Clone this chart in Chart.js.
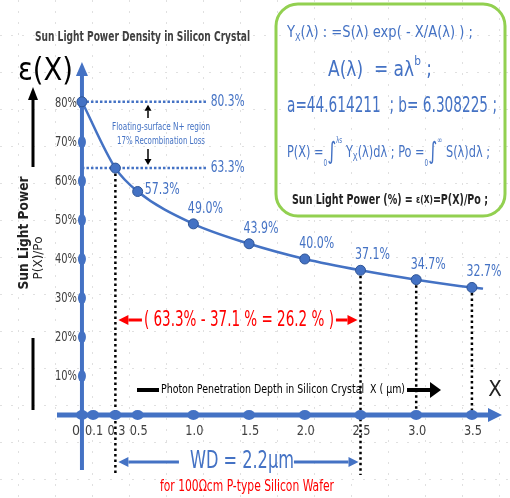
<!DOCTYPE html>
<html>
<head>
<meta charset="utf-8">
<script src="https://cdn.jsdelivr.net/npm/chart.js@4.4.1/dist/chart.umd.min.js"></script>
<style>
  html, body { margin: 0; padding: 0; background: #fff; }
  #wrap { width: 510px; height: 498px; }
</style>
</head>
<body>
<div id="wrap"><canvas id="chart" width="510" height="498"></canvas></div>
<script>
// photon penetration depth (um) and remaining sun light power P(X)/Po (%)
const depth = [0, 0.3, 0.5, 1.0, 1.5, 2.0, 2.5, 3.0, 3.5, 3.6];
const power = [80.3, 63.3, 57.3, 49.0, 43.9, 40.0, 37.1, 34.7, 32.7, 32.4];

// axis ticks
const xTicks = [0, 0.1, 0.3, 0.5, 1.0, 1.5, 2.0, 2.5, 3.0, 3.5];
const xTickLabels = ['0', '0.1', '0.3', '0.5', '1.0', '1.5', '2.0', '2.5', '3.0', '3.5'];
const yTicks = [10, 20, 30, 40, 50, 60, 70, 80];
const yTickLabels = ['10%', '20%', '30%', '40%', '50%', '60%', '70%', '80%'];

// marked levels and depths
const surfaceLevels = [80.3, 63.3];
const dropDepths = [0.3, 2.5, 3.0, 3.5];
const wdRange = [0.3, 2.5];

const BLUE = '#4472C4';
const NARROW = "'Liberation Sans Narrow', 'DejaVu Sans Condensed', 'Arial Narrow', sans-serif";

function powerAt(d) {
    return power[depth.indexOf(d)];
}

function arrow(ctx, x1, y1, x2, y2, color, lw, hl, hw) {
    const a = Math.atan2(y2 - y1, x2 - x1);
    const bx = x2 - hl * Math.cos(a), by = y2 - hl * Math.sin(a);
    ctx.save();
    ctx.strokeStyle = color;
    ctx.fillStyle = color;
    ctx.lineWidth = lw;
    ctx.setLineDash([]);
    ctx.beginPath();
    ctx.moveTo(x1, y1);
    ctx.lineTo(bx, by);
    ctx.stroke();
    ctx.beginPath();
    ctx.moveTo(x2, y2);
    ctx.lineTo(bx + hw * Math.sin(a), by - hw * Math.cos(a));
    ctx.lineTo(bx - hw * Math.sin(a), by + hw * Math.cos(a));
    ctx.closePath();
    ctx.fill();
    ctx.restore();
}

function txt(ctx, s, x, y, font, color, align, maxW) {
    ctx.font = font;
    ctx.fillStyle = color;
    ctx.textAlign = align || 'left';
    ctx.textBaseline = 'middle';
    if (maxW) ctx.fillText(s, x, y, maxW);
    else ctx.fillText(s, x, y);
}

// segments: [text, size, dy, bold]
function rich(ctx, segs, x, y, targetW, color) {
    let w = 0;
    segs.forEach(s => {
        ctx.font = (s[3] ? 'bold ' : '') + s[1] + 'px ' + NARROW;
        s.w = ctx.measureText(s[0]).width;
        w += s.w;
    });
    const k = targetW / w;
    ctx.save();
    ctx.translate(x, y);
    ctx.scale(k, 1);
    ctx.fillStyle = color;
    ctx.textAlign = 'left';
    ctx.textBaseline = 'middle';
    let cx = 0;
    segs.forEach(s => {
        ctx.font = (s[3] ? 'bold ' : '') + s[1] + 'px ' + NARROW;
        ctx.fillText(s[0], cx, s[2]);
        cx += s.w;
    });
    ctx.restore();
}

function faintGrid(ctx, x1, y1, x2, y2) {
    ctx.save();
    ctx.strokeStyle = '#e0e0e0';
    ctx.lineWidth = 1;
    ctx.setLineDash([2, 9]);
    for (let gx = 18; gx < x2; gx += 37) {
        if (gx < x1) continue;
        ctx.beginPath(); ctx.moveTo(gx + 0.5, y1); ctx.lineTo(gx + 0.5, y2); ctx.stroke();
    }
    for (let gy = 35; gy < y2; gy += 37) {
        if (gy < y1) continue;
        ctx.beginPath(); ctx.moveTo(x1, gy + 0.5); ctx.lineTo(x2, gy + 0.5); ctx.stroke();
    }
    ctx.restore();
}

const backdrop = {
    id: 'backdrop',
    beforeDraw(chart) {
        const ctx = chart.ctx;
        ctx.save();
        ctx.fillStyle = '#fff';
        ctx.fillRect(0, 0, chart.width, chart.height);
        ctx.restore();
        faintGrid(ctx, 0, 0, chart.width, chart.height);
    },
    beforeDatasetsDraw(chart) {
        const ctx = chart.ctx;
        const xs = chart.scales.x, ys = chart.scales.y, area = chart.chartArea;
        const x0 = xs.getPixelForValue(0), y0 = ys.getPixelForValue(0);
        ctx.save();

        // dotted surface levels
        const lvEnd = xs.getPixelForValue(1.12);
        surfaceLevels.forEach(lv => {
            const py = ys.getPixelForValue(lv);
            ctx.strokeStyle = BLUE;
            ctx.lineWidth = 2.5;
            ctx.setLineDash([2.5, 2]);
            ctx.beginPath(); ctx.moveTo(x0, py); ctx.lineTo(lvEnd, py); ctx.stroke();
            txt(ctx, lv.toFixed(1) + '%', lvEnd + 4, py, '15px ' + NARROW, BLUE, 'left', 34);
        });

        // black drop lines from the curve
        dropDepths.forEach(d => {
            const px = xs.getPixelForValue(d);
            const top = ys.getPixelForValue(powerAt(d));
            const bottom = wdRange.includes(d) ? area.bottom + 5 : y0;
            ctx.strokeStyle = '#000';
            ctx.lineWidth = 2.5;
            ctx.setLineDash([2.5, 3]);
            ctx.beginPath(); ctx.moveTo(px, top); ctx.lineTo(px, bottom); ctx.stroke();
        });
        ctx.setLineDash([]);

        // axes
        arrow(ctx, x0, area.bottom, x0, area.top, BLUE, 4, 14, 6);
        arrow(ctx, area.left, y0, area.right, y0, BLUE, 5, 14, 7);

        yTicks.forEach((v, i) => {
            const py = ys.getPixelForValue(v);
            ctx.fillStyle = BLUE;
            ctx.beginPath(); ctx.ellipse(x0, py, 4, 6, 0, 0, Math.PI * 2); ctx.fill();
            txt(ctx, yTickLabels[i], x0 - 5, py, '14px ' + NARROW, '#404040', 'right', 22);
        });
        xTicks.forEach((v, i) => {
            const px = xs.getPixelForValue(v);
            ctx.fillStyle = BLUE;
            ctx.beginPath(); ctx.ellipse(px, y0, 6, 5, 0, 0, Math.PI * 2); ctx.fill();
            const lx = v === 0 ? px - 6 : px + 1;
            txt(ctx, xTickLabels[i], lx, y0 + 16, '14px ' + NARROW, '#404040', 'center', 18);
        });
        ctx.restore();
    },
    afterDatasetsDraw(chart) {
        const ctx = chart.ctx;
        const xs = chart.scales.x, ys = chart.scales.y;
        const meta = chart.getDatasetMeta(0);
        ctx.save();

        // value labels on the curve
        meta.data.forEach((pt, i) => {
            if (depth[i] < 0.5 || depth[i] > 3.5) return;
            const s = power[i].toFixed(1) + '%';
            if (depth[i] === 0.5) txt(ctx, s, pt.x + 7, pt.y - 1, '15px ' + NARROW, BLUE, 'left', 35);
            else txt(ctx, s, pt.x + 12, pt.y - 15, '15px ' + NARROW, BLUE, 'center', 35);
        });

        // recombination loss note
        const hiY = ys.getPixelForValue(surfaceLevels[0]), loY = ys.getPixelForValue(surfaceLevels[1]);
        txt(ctx, 'Floating-surface N+ region', 161, 127, '11px ' + NARROW, BLUE, 'center', 98);
        txt(ctx, (surfaceLevels[0] - surfaceLevels[1]).toFixed(0) + '% Recombination Loss', 161, 141, '11px ' + NARROW, BLUE, 'center', 88);
        arrow(ctx, 148, 118, 148, hiY + 3, '#000', 1.5, 6, 3.5);
        arrow(ctx, 148, 149, 148, loY - 3, '#000', 1.5, 6, 3.5);

        // red difference between the two drop lines
        const xa = xs.getPixelForValue(wdRange[0]), xb = xs.getPixelForValue(wdRange[1]);
        const pa = powerAt(wdRange[0]), pb = powerAt(wdRange[1]);
        const diff = '( ' + pa.toFixed(1) + '% - ' + pb.toFixed(1) + ' % = ' + (pa - pb).toFixed(1) + ' % )';
        const cx = (xa + xb) / 2 + 1;
        txt(ctx, diff, cx, 320, '22px ' + NARROW, '#FF0000', 'center', 190);
        arrow(ctx, cx - 97, 320, xa + 3, 320, '#FF0000', 3, 10, 5);
        arrow(ctx, cx + 97, 320, xb - 3, 320, '#FF0000', 3, 10, 5);

        // penetration depth caption
        ctx.fillStyle = '#000';
        ctx.fillRect(137, 388, 22, 4);
        txt(ctx, 'Photon Penetration Depth in Silicon Crystal  X ( \u03BCm)', 161, 390, '12px ' + NARROW, '#000', 'left', 244);
        arrow(ctx, 407, 390, 441, 390, '#000', 4, 11, 8);
        txt(ctx, 'X', 495, 390, '22px ' + NARROW, '#222', 'center', 14);

        // WD span
        txt(ctx, 'WD = ' + (wdRange[1] - wdRange[0]).toFixed(1) + '\u00B5m', cx + 3, 462, '24px ' + NARROW, BLUE, 'center', 104);
        arrow(ctx, cx - 60, 462, xa + 3, 462, BLUE, 3, 10, 5);
        arrow(ctx, cx + 55, 462, xb - 2, 462, BLUE, 3, 10, 5);
        txt(ctx, 'for 100\u03A9cm P-type Silicon Wafer', cx + 8, 487, '15px ' + NARROW, '#FF0000', 'center', 174);

        // title and axis names
        txt(ctx, 'Sun Light Power Density in Silicon Crystal', 35, 37, 'bold 14px ' + NARROW, '#404040', 'left', 215);
        txt(ctx, '\u03B5(X)', 18, 72, '32px ' + NARROW, '#000', 'left', 55);
        arrow(ctx, 33, 167, 33, 87, '#000', 3, 13, 5);
        ctx.fillStyle = '#000';
        ctx.fillRect(31.5, 338, 3, 72);
        ctx.save();
        ctx.translate(24, 233);
        ctx.rotate(-Math.PI / 2);
        txt(ctx, 'Sun Light Power', 0, 0, "bold 14px 'DejaVu Sans', sans-serif", '#222', 'center', 113);
        ctx.restore();
        ctx.save();
        ctx.translate(39, 258);
        ctx.rotate(-Math.PI / 2);
        txt(ctx, 'P(X)/Po', 0, 0, "12px 'DejaVu Sans', sans-serif", '#222', 'center', 56);
        ctx.restore();

        // formula box
        ctx.fillStyle = '#fff';
        ctx.strokeStyle = '#92D050';
        ctx.lineWidth = 3;
        ctx.beginPath();
        ctx.roundRect(276, 4, 229, 212, 22);
        ctx.fill();
        faintGrid(ctx, 279, 7, 502, 213);
        ctx.beginPath();
        ctx.roundRect(276, 4, 229, 212, 22);
        ctx.stroke();

        rich(ctx, [['Y', 16, 0], ['X', 10, 5], ['(\u03BB) : =S(\u03BB) exp( - X/A(\u03BB) ) ;', 16, 0]], 287, 33, 186, BLUE);
        rich(ctx, [['A(\u03BB)  = a\u03BB', 21, 0], ['b', 13, -9], [' ;', 21, 0]], 328, 71, 104, BLUE);
        rich(ctx, [['a=44.614211  ; b= 6.308225 ;', 21, 0]], 287, 107, 210, BLUE);
        rich(ctx, [
            ['P(X) =', 16, 0], ['0', 8, 11], ['\u222B', 24, 0], ['\u03BBs', 8, -12],
            [' Y', 16, 0], ['X', 10, 5], ['(\u03BB)d\u03BB ; Po =', 16, 0],
            ['0', 8, 11], ['\u222B', 24, 0], ['\u221E', 9, -12], [' S(\u03BB)d\u03BB ;', 16, 0]
        ], 287, 153, 203, BLUE);
        rich(ctx, [['Sun Light Power (%) = ', 14, 0, true], ['\u03B5(X)', 11, 0, true], ['=P(X)/Po ;', 14, 0, true]], 292, 200, 196, '#222');

        ctx.restore();
    }
};

new Chart(document.getElementById('chart'), {
    type: 'line',
    data: {
        datasets: [{
            data: depth.map((d, i) => ({ x: d, y: power[i] })),
            borderColor: BLUE,
            borderWidth: 2.5,
            cubicInterpolationMode: 'monotone',
            pointRadius: c => depth[c.dataIndex] > 3.5 ? 0 : 5,
            pointBackgroundColor: BLUE,
            pointBorderColor: '#2F5597',
            pointBorderWidth: 1,
            clip: false
        }]
    },
    options: {
        responsive: false,
        animation: false,
        layout: { autoPadding: false, padding: { left: 57, right: 8, top: 62, bottom: 28 } },
        plugins: { legend: { display: false }, tooltip: { enabled: false } },
        scales: {
            x: { type: 'linear', min: -0.224, max: 3.77, display: false },
            y: { type: 'linear', min: -14.1, max: 90.5, display: false }
        }
    },
    plugins: [backdrop]
});
</script>
</body>
</html>
